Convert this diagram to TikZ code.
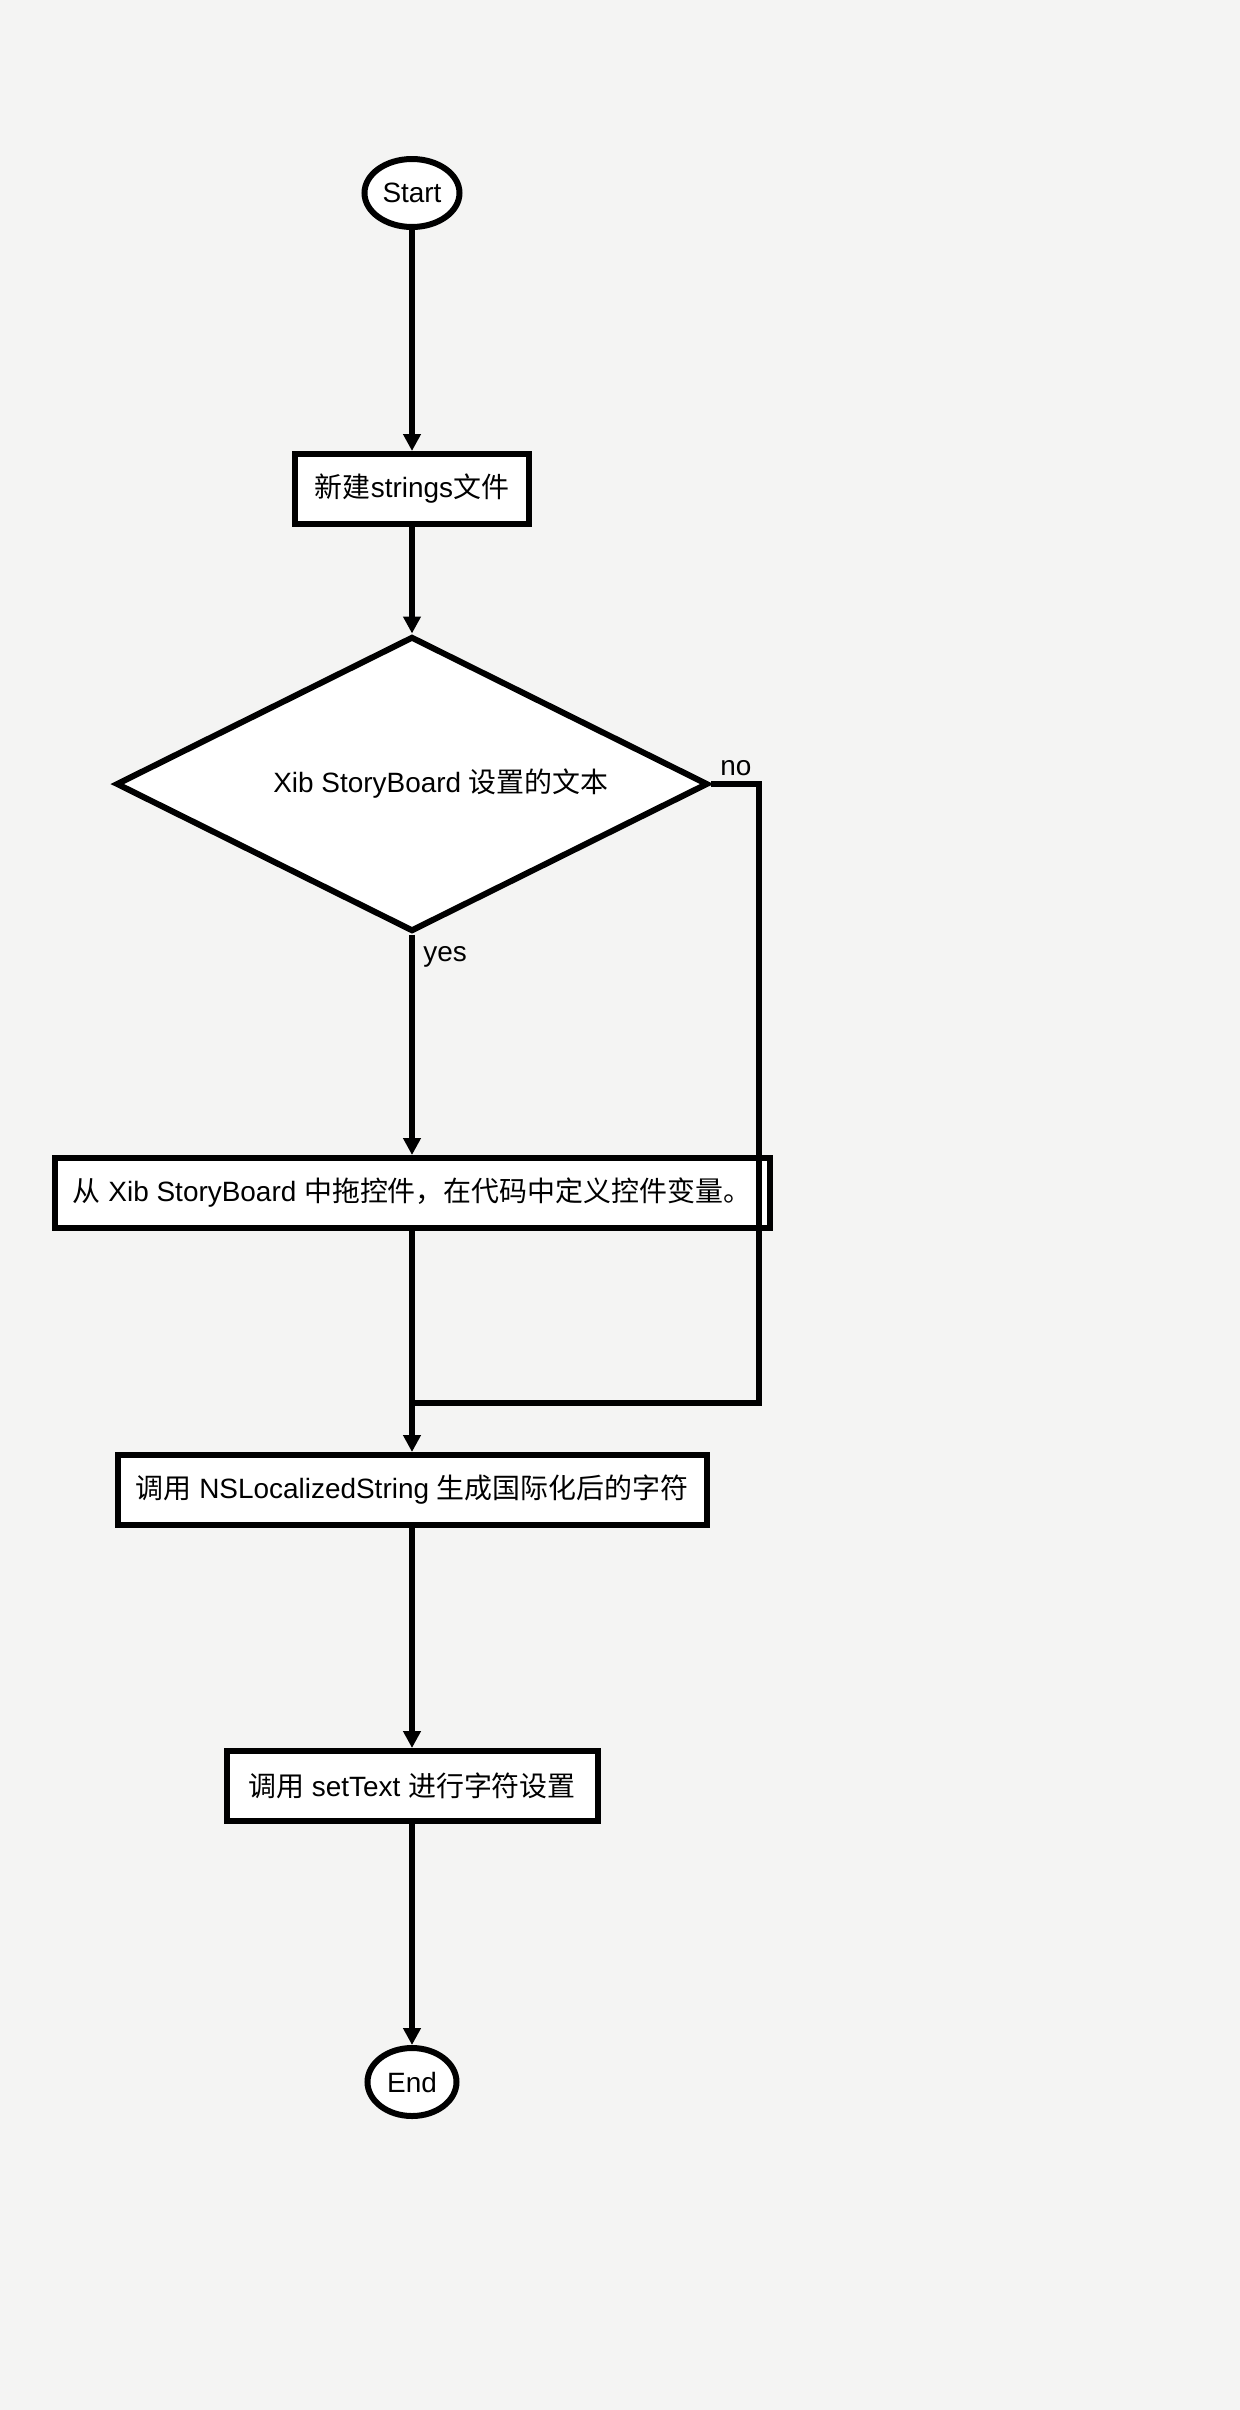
\documentclass[tikz,border=0pt]{standalone}
\usepackage{fontspec}
\setmainfont{Liberation Sans}
\newfontfamily\zh{Noto Sans CJK SC}
\usetikzlibrary{shapes.geometric,
                arrows.meta}
\definecolor{paper}{RGB}{244,244,243}

\begin{document}
\begin{tikzpicture}[
    every node/.style={font=\fontsize{15.9}{19}\selectfont},
    flow/.style={line width=0.12cm, -{Triangle[length=0.34cm, width=0.34cm]}},
    wire/.style={line width=0.12cm},
    term/.style={ellipse, draw, fill=white, line width=0.12cm, inner sep=0pt, minimum height=1.36cm},
    proc/.style={rectangle, draw, fill=white, line width=0.12cm, inner sep=0pt, minimum height=1.4cm},
    test/.style={diamond, draw, fill=white, line width=0.12cm, inner sep=0pt,
                 minimum width=11.84cm, minimum height=5.9cm}]
      \fill[paper] (0, 0) rectangle (24.8, -48.2);
      \node[term, minimum width=1.9cm] (start) at (8.24, -3.86) {Start};
      \node[proc, minimum width=4.68cm] (new) at (8.24, -9.78) {{\zh 新建}strings{\zh 文件}};
      \node[test] (dec) at (8.24, -15.68) {};
      \node (dectext) at (8.82, -15.68) {Xib StoryBoard {\zh 设置的文本}};
      \node[proc, minimum width=14.3cm] (drag) at (8.24, -23.86)
        {{\zh 从} Xib StoryBoard {\zh 中拖控件，在代码中定义控件变量。}};
      \node[proc, minimum width=11.78cm] (gen) at (8.24, -29.8)
        {{\zh 调用} NSLocalizedString {\zh 生成国际化后的字符}};
      \node[proc, minimum width=7.42cm] (set) at (8.24, -35.72) {{\zh 调用} setText {\zh 进行字符设置}};
      \node[term, minimum width=1.78cm] (end) at (8.24, -41.64) {End};
      \node[anchor=base west, inner sep=0pt] (yes) at (8.46, -19.22) {yes};
      \node[anchor=base west, inner sep=0pt] (no) at (14.4, -15.5) {no};
      \coordinate (nocorner) at (15.18, -28.06);
      \coordinate (merge) at (8.24, -28.06);
      \draw[flow] (start) -- (new);
      \draw[flow] (new) -- (dec);
      \draw[flow] (dec) -- (drag);
      \draw[flow] (drag) -- (gen);
      \draw[wire] (dec.east) -| (nocorner) -- (merge);
      \draw[flow] (gen) -- (set);
      \draw[flow] (set) -- (end);
    \end{tikzpicture}
\end{document}
